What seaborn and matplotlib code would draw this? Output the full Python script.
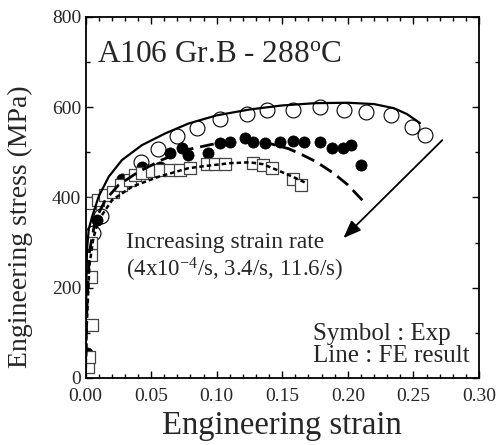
import numpy as np
import pandas as pd
import matplotlib
matplotlib.use("Agg")
import matplotlib.pyplot as plt
from matplotlib.ticker import MultipleLocator, FormatStrFormatter
import seaborn as sns

# FE results (lines)
fe_slow_strain = [0, 0.0003, 0.0011, 0.0025, 0.005, 0.01, 0.0177, 0.0278, 0.043, 0.0608,
                  0.0786, 0.1, 0.125, 0.15, 0.175, 0.2, 0.22, 0.235, 0.245, 0.255]
fe_slow_stress = [0, 120, 284, 330, 357, 402, 446, 483, 516, 542,
                  564, 582, 595, 604, 609, 610, 607, 598, 585, 565]

fe_mid_strain = [0, 0.001, 0.003, 0.0075, 0.015, 0.0253, 0.0405, 0.058, 0.076, 0.1,
                 0.12, 0.14, 0.155, 0.165, 0.176, 0.189, 0.2, 0.212]
fe_mid_stress = [0, 150, 280, 350, 394, 428, 457, 483, 505, 520,
                 524, 520, 508, 495, 479, 454, 428, 391]

fe_fast_strain = [0, 0.001, 0.003, 0.006, 0.010, 0.0202, 0.0355, 0.0558, 0.0786, 0.092,
                  0.11, 0.125, 0.135, 0.146, 0.158, 0.169]
fe_fast_stress = [0, 120, 250, 310, 350, 394, 424, 446, 465, 470,
                  476, 478, 474, 461, 446, 431]

# Experimental data (symbols)
exp_slow_strain = [0.003, 0.006, 0.012, 0.042, 0.055, 0.0695, 0.085, 0.1025, 0.123,
                   0.138, 0.158, 0.179, 0.197, 0.214, 0.233, 0.249, 0.259]
exp_slow_stress = [290, 322, 360, 479, 507, 536, 553, 575, 586,
                   594, 594, 600, 594, 590, 583, 557, 538]

exp_mid_strain = [0.001, 0.009, 0.0276, 0.0428, 0.0568, 0.0644, 0.0733, 0.078, 0.0936,
                  0.1025, 0.110, 0.1215, 0.128, 0.137, 0.148, 0.158, 0.1665, 0.179,
                  0.1876, 0.1965, 0.2023, 0.2097]
exp_mid_stress = [55, 350, 442, 468, 468, 498, 509, 494, 498,
                  520, 524, 531, 524, 521, 522, 526, 522, 522,
                  510, 510, 516, 472]

exp_fast_strain = [0.002, 0.003, 0.0053, 0.004, 0.004, 0.004, 0.0034, 0.0098, 0.015,
                   0.021, 0.027, 0.034, 0.0377, 0.0428, 0.0504, 0.0568, 0.0644, 0.072,
                   0.080, 0.0923, 0.0987, 0.106, 0.128, 0.1355, 0.142, 0.158, 0.1646]
exp_fast_stress = [25, 47, 117, 224, 272, 300, 387, 394, 405,
                   413, 427, 439, 450, 454, 458, 461, 461, 462,
                   466, 474, 474, 474, 476, 472, 465, 442, 428]

sns.set_theme(style="ticks")
plt.rcParams["font.family"] = ["Liberation Serif", "DejaVu Serif"]
plt.rcParams["mathtext.fontset"] = "custom"
plt.rcParams["mathtext.rm"] = "Liberation Serif"
plt.rcParams["mathtext.it"] = "Liberation Serif:italic"

fig = plt.figure(figsize=(4.98, 4.45), dpi=100)
ax = fig.add_axes([0.1717, 0.1506, 0.7901, 0.8112])

sns.scatterplot(x=exp_slow_strain, y=exp_slow_stress, marker="o", s=115,
                facecolor="white", edgecolor="black", linewidth=0.8, ax=ax, zorder=2)
sns.scatterplot(x=exp_mid_strain, y=exp_mid_stress, marker="o", s=65,
                color="black", edgecolor="black", linewidth=0.5, ax=ax, zorder=2)
sns.scatterplot(x=exp_fast_strain, y=exp_fast_stress, marker="s", s=80,
                facecolor="white", edgecolor="#444444", linewidth=0.9, ax=ax, zorder=2)

sns.lineplot(x=fe_slow_strain, y=fe_slow_stress, sort=False, estimator=None,
             color="black", linewidth=1.6, ax=ax, zorder=3)
sns.lineplot(x=fe_mid_strain, y=fe_mid_stress, sort=False, estimator=None,
             color="black", linewidth=2.0, ax=ax, zorder=3)
ax.lines[-1].set_dashes((5, 2.5))
sns.lineplot(x=fe_fast_strain, y=fe_fast_stress, sort=False, estimator=None,
             color="black", linewidth=1.8, ax=ax, zorder=3)
ax.lines[-1].set_dashes((1.8, 1.2))

ax.annotate("", xy=(0.1966, 310), xytext=(0.272, 527),
            arrowprops=dict(arrowstyle="-|>,head_length=0.9,head_width=0.35",
                            color="black", lw=1.3, shrinkA=0, shrinkB=0))

ax.text(0.029, 0.875, "A106 Gr.B - 288$^{\\mathrm{o}}$C", transform=ax.transAxes,
        fontsize=22.5, va="baseline", ha="left")
ax.text(0.103, 0.360, "Increasing strain rate", transform=ax.transAxes,
        fontsize=17, va="baseline", ha="left")
ax.text(0.103, 0.281, "(4x10$^{\\mathrm{-4}}$/s, 3.4/s, 11.6/s)", transform=ax.transAxes,
        fontsize=16.5, va="baseline", ha="left")
ax.text(0.578, 0.105, "Symbol : Exp", transform=ax.transAxes,
        fontsize=18, va="baseline", ha="left")
ax.text(0.578, 0.045, "Line : FE result", transform=ax.transAxes,
        fontsize=18, va="baseline", ha="left")

ax.set_xlim(0, 0.30)
ax.set_ylim(0, 800)
ax.xaxis.set_major_locator(MultipleLocator(0.05))
ax.xaxis.set_minor_locator(MultipleLocator(0.01))
ax.yaxis.set_major_locator(MultipleLocator(200))
ax.yaxis.set_minor_locator(MultipleLocator(100))
ax.xaxis.set_major_formatter(FormatStrFormatter("%.2f"))
ax.tick_params(which="both", direction="in", top=True, right=True,
               labelsize=14, width=1.0, color="black", pad=3)
ax.tick_params(axis="x", which="major", pad=7.5)
ax.tick_params(which="major", length=5)
ax.tick_params(which="minor", length=3)
for sp in ax.spines.values():
    sp.set_linewidth(1.3)
    sp.set_color("black")

ax.set_xlabel("Engineering strain", fontsize=23.5, labelpad=4)
ax.set_ylabel("Engineering stress (MPa)", fontsize=20)
ax.yaxis.set_label_coords(-0.133, 0.418)

fig.savefig("out.png", dpi=100)
